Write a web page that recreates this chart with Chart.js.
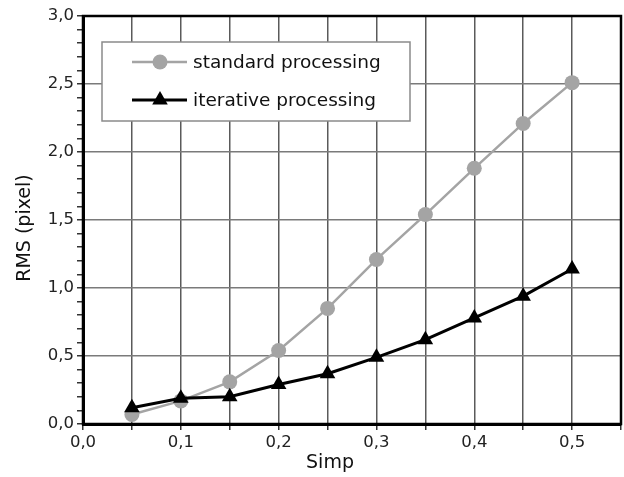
<!DOCTYPE html>
<html>
<head>
<meta charset="utf-8">
<script src="https://cdn.jsdelivr.net/npm/chart.js@4"></script>
<style>
  html, body { margin: 0; padding: 0; background: #fff; }
  #wrap { width: 624px; height: 477px; }
</style>
</head>
<body>
<div id="wrap"><canvas id="rmsChart" width="624" height="477"></canvas></div>
<script>
// ===== DATA =====
const simp       = [0.05, 0.10, 0.15, 0.20, 0.25, 0.30, 0.35, 0.40, 0.45, 0.50];
const standard   = [0.07, 0.17, 0.31, 0.54, 0.85, 1.21, 1.54, 1.88, 2.21, 2.51];
const iterative  = [0.12, 0.19, 0.20, 0.29, 0.37, 0.49, 0.62, 0.78, 0.94, 1.14];
const seriesNames = ["standard processing", "iterative processing"];
const xTickLabels = ["0,0", "0,1", "0,2", "0,3", "0,4", "0,5"];
const yTickLabels = ["0,0", "0,5", "1,0", "1,5", "2,0", "2,5", "3,0"];
const xTitle = "Simp";
const yTitle = "RMS (pixel)";

const FONT = "'DejaVu Sans', 'Liberation Sans', Arial, sans-serif";
const grayCol = "#a4a4a4";

function toPts(ys) { return simp.map((x, i) => ({ x: x, y: ys[i] })); }
function isMult(v, step) { const q = v / step; return Math.abs(q - Math.round(q)) < 1e-6; }

// ===== LEGEND (inside plot) =====
const boxLegend = {
  id: "boxLegend",
  afterDraw(chart) {
    const ctx = chart.ctx;
    ctx.save();
    ctx.fillStyle = "#fff";
    ctx.fillRect(102, 42, 308, 79);
    ctx.strokeStyle = "#8a8a8a";
    ctx.lineWidth = 1.5;
    ctx.strokeRect(102, 42, 308, 79);

    const rows = [
      { y: 62,  color: grayCol, width: 2.5, shape: "circle" },
      { y: 100, color: "#000",  width: 3,   shape: "triangle" }
    ];
    rows.forEach((r, i) => {
      ctx.strokeStyle = r.color;
      ctx.lineWidth = r.width;
      ctx.beginPath(); ctx.moveTo(132, r.y); ctx.lineTo(187, r.y); ctx.stroke();
      ctx.fillStyle = r.color;
      ctx.beginPath();
      if (r.shape === "circle") {
        ctx.arc(160, r.y, 7.5, 0, Math.PI * 2);
      } else {
        const rad = 9;
        ctx.moveTo(160, r.y - rad);
        ctx.lineTo(160 + rad * 0.866, r.y + rad * 0.5);
        ctx.lineTo(160 - rad * 0.866, r.y + rad * 0.5);
        ctx.closePath();
      }
      ctx.fill();
      ctx.fillStyle = "#111";
      ctx.font = "18.5px " + FONT;
      ctx.textBaseline = "middle";
      ctx.textAlign = "left";
      ctx.fillText(seriesNames[i], 193, r.y + 1);
    });
    ctx.restore();
  }
};

// ===== FRAME + AXIS TITLES =====
const frame = {
  id: "frame",
  afterDatasetsDraw(chart) {
    const a = chart.chartArea, ctx = chart.ctx;
    ctx.save();
    ctx.strokeStyle = "#000";
    ctx.lineWidth = 2.5;
    ctx.strokeRect(a.left, a.top, a.right - a.left, a.bottom - a.top);

    ctx.fillStyle = "#111";
    ctx.font = "19px " + FONT;
    ctx.textAlign = "center";
    ctx.textBaseline = "middle";
    ctx.fillText(xTitle, 330, 463);
    ctx.translate(25, 228);
    ctx.rotate(-Math.PI / 2);
    ctx.fillText(yTitle, 0, 0);
    ctx.restore();
  }
};

new Chart(document.getElementById("rmsChart"), {
  type: "line",
  data: {
    datasets: [
      {
        label: seriesNames[0], data: toPts(standard), order: 1,
        borderColor: grayCol, backgroundColor: grayCol, borderWidth: 2.5,
        pointStyle: "circle", pointRadius: 7.5, pointBorderWidth: 0,
        pointBackgroundColor: grayCol, tension: 0
      },
      {
        label: seriesNames[1], data: toPts(iterative), order: 0,
        borderColor: "#000", backgroundColor: "#000", borderWidth: 3,
        pointStyle: "triangle", pointRadius: 9, pointBorderWidth: 0,
        pointBackgroundColor: "#000", tension: 0
      }
    ]
  },
  options: {
    responsive: false,
    animation: false,
    devicePixelRatio: 1,
    layout: { autoPadding: false, padding: { top: 16, right: 3, left: 0, bottom: 0 } },
    plugins: { legend: { display: false }, tooltip: { enabled: false } },
    scales: {
      x: {
        type: "linear", min: 0, max: 0.55,
        afterFit: s => { s.height = 53; s.paddingLeft = 0; s.paddingRight = 0; },
        ticks: {
          stepSize: 0.05, autoSkip: false, maxRotation: 0, padding: 3,
          color: "#222", font: { family: FONT, size: 16.5 },
          callback: v => (isMult(v, 0.1) ? xTickLabels[Math.round(v * 10)] || "" : "")
        },
        grid: { color: "#5a5a5a", lineWidth: 1.5, tickLength: 6, tickColor: "#333" },
        border: { color: "#000", width: 3 }
      },
      y: {
        min: 0, max: 3,
        afterFit: s => { s.width = 83; s.paddingTop = 0; s.paddingBottom = 0; },
        ticks: {
          stepSize: 0.1, autoSkip: false, padding: 3,
          color: "#222", font: { family: FONT, size: 16.5 },
          callback: v => (isMult(v, 0.5) ? yTickLabels[Math.round(v * 2)] : "")
        },
        grid: {
          lineWidth: 1.5, tickLength: 6, tickColor: "#333",
          color: c => (c.tick && isMult(c.tick.value, 0.5) ? "#7a7a7a" : "rgba(0,0,0,0)")
        },
        border: { color: "#000", width: 3 }
      }
    }
  },
  plugins: [boxLegend, frame]
});
</script>
</body>
</html>
